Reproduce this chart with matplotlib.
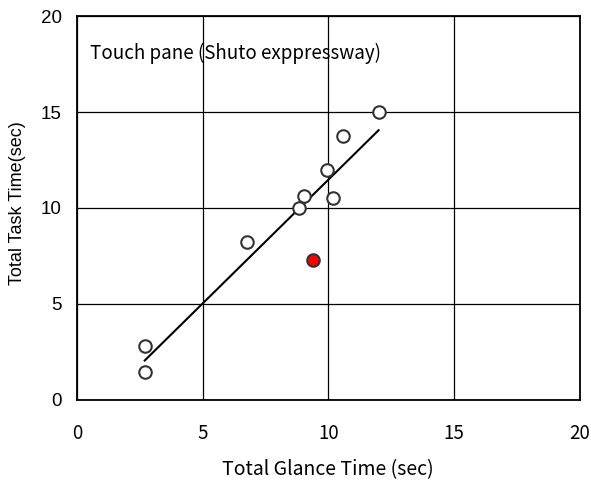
import numpy as np
import matplotlib
matplotlib.use("Agg")
import matplotlib.pyplot as plt

# glance time vs task time
glance = [12.0, 10.6, 9.95, 9.05, 8.85, 10.2, 6.75, 2.7, 2.7]
task = [15.0, 13.75, 12.0, 10.6, 10.0, 10.5, 8.25, 2.8, 1.45]

# highlighted point
red_glance = [9.4]
red_task = [7.3]

# regression line endpoints
fit_x = [2.7, 12.0]
fit_y = [2.05, 14.05]

ticks = [0, 5, 10, 15, 20]

jp = ["Noto Sans CJK JP", "DejaVu Sans"]

fig = plt.figure(figsize=(5.91, 4.87), dpi=100)
ax = fig.add_axes([0.130, 0.179, 0.851, 0.788])

ax.set_xlim(0, 20)
ax.set_ylim(0, 20)
ax.set_xticks(ticks)
ax.set_yticks(ticks)
ax.grid(True, color="black", linewidth=0.9)
ax.set_axisbelow(True)
ax.tick_params(axis="x", length=0, pad=17, labelsize=13.5)
ax.tick_params(axis="y", length=0, pad=11, labelsize=13.5)
for lab in ax.get_xticklabels():
    lab.set_family(jp)
for lab in ax.get_yticklabels():
    lab.set_family("Liberation Sans")
for sp in ax.spines.values():
    sp.set_linewidth(1.3)

ax.plot(fit_x, fit_y, color="black", linewidth=1.5, zorder=3)
ax.plot(glance, task, "o", markersize=9, markerfacecolor="white",
        markeredgecolor="#333333", markeredgewidth=1.5, zorder=4)
ax.plot(red_glance, red_task, "o", markersize=9, markerfacecolor="red",
        markeredgecolor="#333333", markeredgewidth=1.5, zorder=4)

ax.text(0.52, 18.05, "Touch pane (Shuto exppressway)", fontsize=13.5,
        family=jp, va="center", ha="left")

ax.set_xlabel("Total Glance Time (sec)", fontsize=14, family=jp, va="center")
ax.xaxis.set_label_coords(0.5, -0.182)
ax.set_ylabel("Total Task Time(sec)", fontsize=13, family="Liberation Sans", va="center")
ax.yaxis.set_label_coords(-0.117, 0.513)

fig.savefig("out.png", dpi=100)
